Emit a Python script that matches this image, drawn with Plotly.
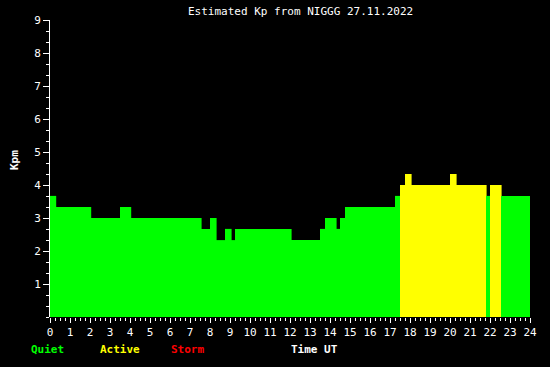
import plotly.graph_objects as go

# Step edges (hours UT) and Kp values for each interval
edges = [0, 0.28, 2.03, 3.5, 4.03, 7.55, 8.0, 8.3, 8.75, 9.05, 9.25, 12.05, 13.5, 13.75,
         14.3, 14.5, 14.75, 17.25, 17.5, 17.75, 18.05, 20.0, 20.3, 21.8, 22.0, 22.55, 24.0]
kp = [3.67, 3.33, 3.0, 3.33, 3.0, 2.67, 3.0, 2.33, 2.67, 2.33, 2.67, 2.33, 2.67, 3.0,
      2.67, 3.0, 3.33, 3.67, 4.0, 4.33, 4.0, 4.33, 4.0, 3.67, 4.0, 3.67]
x_ticks = list(range(0, 25))
y_ticks = list(range(1, 10))

GREEN, YELLOW, RED = "#00ff00", "#ffff00", "#ff0000"


def color(v):
    if v >= 5:
        return RED
    if v >= 4:
        return YELLOW
    return GREEN


OVER = 0.03  # small rightward overlap to avoid anti-aliasing seams
mids = [(edges[i] + edges[i + 1] + OVER) / 2 for i in range(len(kp))]
widths = [edges[i + 1] - edges[i] + OVER for i in range(len(kp))]

fig = go.Figure(go.Bar(
    x=mids, y=kp, width=widths, base=0,
    marker=dict(color=[color(v) for v in kp], line=dict(width=0)),
    hoverinfo="skip",
))

FONT = "DejaVu Sans Mono"
L, R, T, B = 50, 20, 20, 50
W, H = 550, 367
pw, ph = W - L - R, H - T - B

fig.update_layout(
    width=W, height=H,
    margin=dict(l=L, r=R, t=T, b=B),
    paper_bgcolor="black", plot_bgcolor="black",
    showlegend=False,
    font=dict(family=FONT, color="white", size=11),
    xaxis=dict(range=[0, 24], tickvals=x_ticks, ticktext=[str(t) for t in x_ticks],
               ticks="outside", ticklen=5, tickcolor="white", tickwidth=1,
               showgrid=False, zeroline=False, showline=False,
               tickfont=dict(family=FONT, size=11, color="white"),
               minor=dict(dtick=0.25, tick0=0, ticks="outside", ticklen=3,
                          tickcolor="white", tickwidth=1, showgrid=False),
               fixedrange=True),
    yaxis=dict(range=[0, 9], tickvals=y_ticks, ticktext=[str(t) for t in y_ticks],
               ticks="outside", ticklen=6, tickcolor="white", tickwidth=1,
               showgrid=False, zeroline=False, showline=True, linecolor="white", linewidth=1,
               tickfont=dict(family=FONT, size=11, color="white"),
               minor=dict(dtick=1 / 3, tick0=0, ticks="outside", ticklen=3,
                          tickcolor="white", tickwidth=1, showgrid=False),
               fixedrange=True),
)


def px2paper(px, py):
    return (px - L) / pw, (H - B - py) / ph


anns = [
    ("Estimated Kp from NIGGG 27.11.2022", 300, 12, "white", False),
    ("Quiet", 47, 349, GREEN, True),
    ("Active", 120, 349, YELLOW, True),
    ("Storm", 187, 349, RED, True),
    ("Time UT", 314, 349, "white", True),
]
for text, px, py, col, bold in anns:
    ax, ay = px2paper(px, py)
    fig.add_annotation(x=ax, y=ay, xref="paper", yref="paper", text=f"<b>{text}</b>" if bold else text,
                       showarrow=False, xanchor="center", yanchor="middle",
                       font=dict(family=FONT, size=11, color=col))

ax, ay = px2paper(14, 160)
fig.add_annotation(x=ax, y=ay, xref="paper", yref="paper", text="<b>Kpm</b>", textangle=-90,
                   showarrow=False, xanchor="center", yanchor="middle",
                   font=dict(family=FONT, size=11, color="white"))

fig.write_html("out.html", config={"displayModeBar": False})
